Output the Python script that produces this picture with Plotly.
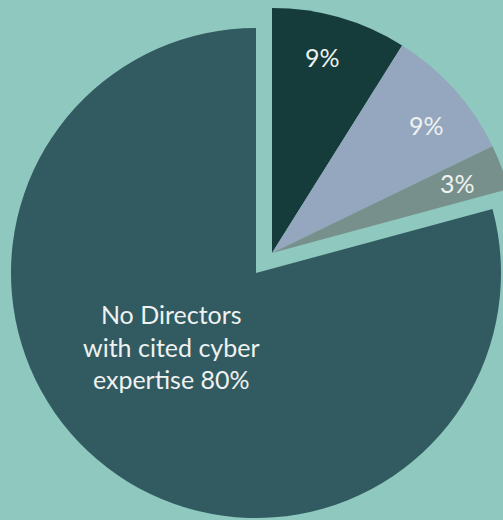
import plotly.graph_objects as go

# Share of companies by number of directors with cited cyber expertise
categories = ["One director", "Two directors", "Three or more directors",
              "No Directors with cited cyber expertise"]
values = [9, 9, 3, 80]
slice_text = ["9%", "9%", "3%", "No Directors<br>with cited cyber<br>expertise 80%"]
slice_colors = ["#153c3b", "#94a7be", "#77908b", "#325b61"]

BG = "#8ec8be"
TEXT = "#eef2f0"
W, H = 520, 520
CLEAR = "rgba(0,0,0,0)"


def box(cx, cy, r):
    """Domain (paper fractions) for a pie of radius r centred at pixel (cx, cy)."""
    return dict(x=[(cx - r) / W, (cx + r) / W],
                y=[1 - (cy + r) / H, 1 - (cy - r) / H])


# the main slice sits apart from the small ones, so each group gets its own pie
main_idx = [3]
small_idx = [0, 1, 2]

fig = go.Figure()
for idx, dom in ((main_idx, box(256, 273, 245)), (small_idx, box(272, 253, 245))):
    fig.add_trace(go.Pie(
        labels=categories,
        values=values,
        sort=False,
        direction="clockwise",
        rotation=0,
        marker=dict(colors=[c if i in idx else CLEAR for i, c in enumerate(slice_colors)],
                    line=dict(width=0)),
        textinfo="none",
        hoverinfo="skip",
        showlegend=False,
        domain=dom,
    ))

# label centres in pixels
label_pos = [(322, 57), (426, 125), (457, 183), (171, 346)]
for (px, py), t in zip(label_pos, slice_text):
    fig.add_annotation(x=px / W, y=1 - py / H, xref="paper", yref="paper",
                       text=t, showarrow=False, xanchor="center", yanchor="middle",
                       font=dict(family="Lato", size=25, color=TEXT))

fig.update_layout(
    width=W, height=H,
    margin=dict(l=0, r=0, t=0, b=0),
    paper_bgcolor=BG,
    plot_bgcolor=BG,
)

fig.write_html("out.html")
